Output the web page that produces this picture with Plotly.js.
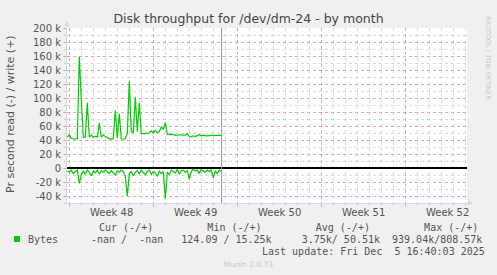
<!DOCTYPE html>
<html>
<head>
<meta charset="utf-8">
<script src="https://cdn.plot.ly/plotly-3.0.1.min.js"></script>
<style>html,body{margin:0;padding:0;background:#F0F0F0;}#chart{width:497px;height:275px;}</style>
</head>
<body>
<div id="chart"></div>
<script>
// ---- data (values in bytes/s, 4-hour samples) ----
const seriesStart = Date.UTC(2025, 10, 22, 20, 0, 0); // first sample time
const stepHours = 4;
const writeK = [44,47.5,42,41.4,41.4,41.4,159,98,44,44,93,44,47,44,45,44,64,44,47,45,44,41.5,41.5,41.5,82,43,77.6,41.4,41.4,41.4,49,124,52,50,101,52,93,49,49,49,49,50,53,50,54,50,52,59,55,65,48,48,48,48,46.5,47,47,47.5,47,47,49,45,44.5,46,45,46,47.5,46,47,46,46.5,47,46.5,46.5,46.5,46.5,46.5,46.5];
const readK = [-4,-6,-3,-8,-5,-3,-22,-10,-4,-9,-3,-6,-11,-4,-7,-3,-9,-4,-6,-3,-5,-8,-4,-7,-10,-4,-6,-3,-5,-12,-40,-8,-5,-11,-6,-4,-8,-3,-6,-10,-5,-3,-9,-5,-7,-12,-4,-8,-5,-44,-6,-10,-3,-5,-7,-2,-9,-4,-3,-6,-4,-16,-5,-2,-4,-3,-8,-2,-4,-6,-3,-5,-3,-14,-4,-8,-3,-6];
const yTickVals = [-40000,-20000,0,20000,40000,60000,80000,100000,120000,140000,160000,180000,200000];
const yTickText = ['-40 k','-20 k','0','20 k','40 k','60 k','80 k','100 k','120 k','140 k','160 k','180 k','200 k'];
const weekStarts = ['2025-11-23','2025-11-30','2025-12-07','2025-12-14','2025-12-21'];
const weekLabelPos = ['2025-11-26 12:00','2025-12-03 12:00','2025-12-10 12:00','2025-12-17 12:00','2025-12-24 12:00'];
const weekLabels = ['Week 48','Week 49','Week 50','Week 51','Week 52'];
const xRange = ['2025-11-22 19:24','2025-12-26 03:24'];
const lastUpdate = '2025-12-05 16:40:03';
const legendHeader = 'Cur (-/+)         Min (-/+)         Avg (-/+)         Max (-/+)';
const legendName = 'Bytes';
const legendValues = '-nan /  -nan   124.09 / 15.25k     3.75k/ 50.51k  939.04k/808.57k';
const lastUpdateText = 'Last update: Fri Dec  5 16:40:03 2025';

function fmt(ms){ return new Date(ms).toISOString().slice(0,19).replace('T',' '); }
const times = writeK.map((_, i) => fmt(seriesStart + i*stepHours*3600e3));
const nb = s => s.replace(/ /g, '\u00a0');

// pixel -> paper helpers for the page furniture
const L = 67, T = 28, W = 400, H = 175;
const PX = px => (px - L) / W;
const PY = py => (T + H - py) / H;

const green = '#00CC00';
const traces = [
  {x: times, y: writeK.map(v => v*1000), type: 'scatter', mode: 'lines',
   line: {color: green, width: 1.2}, hoverinfo: 'skip', showlegend: false},
  {x: times, y: readK.map(v => v*1000), type: 'scatter', mode: 'lines',
   line: {color: green, width: 1.2}, hoverinfo: 'skip', showlegend: false}
];

const txt = '#555';
const annotations = [];
weekLabels.forEach((t, i) => annotations.push({
  text: t, x: weekLabelPos[i], xref: 'x', y: PY(212.5), yref: 'paper',
  xanchor: 'center', yanchor: 'middle', showarrow: false,
  font: {family: 'DejaVu Sans', size: 10, color: txt}
}));
annotations.push({text: 'Pr second read (-) / write (+)', x: PX(10), y: PY(114), xref: 'paper', yref: 'paper',
  textangle: -90, showarrow: false, xanchor: 'center', yanchor: 'middle',
  font: {family: 'DejaVu Sans', size: 11, color: txt}});
annotations.push({text: nb(legendHeader), x: PX(97), y: PY(227.7), xref: 'paper', yref: 'paper',
  xanchor: 'left', yanchor: 'middle', showarrow: false, font: {family: 'DejaVu Sans Mono', size: 10, color: txt}});
annotations.push({text: legendName, x: PX(25.5), y: PY(239.3), xref: 'paper', yref: 'paper',
  xanchor: 'left', yanchor: 'middle', showarrow: false, font: {family: 'DejaVu Sans Mono', size: 10, color: txt}});
annotations.push({text: nb(legendValues), x: PX(89), y: PY(239.3), xref: 'paper', yref: 'paper',
  xanchor: 'left', yanchor: 'middle', showarrow: false, font: {family: 'DejaVu Sans Mono', size: 10, color: txt}});
annotations.push({text: nb(lastUpdateText), x: PX(260), y: PY(251.7), xref: 'paper', yref: 'paper',
  xanchor: 'left', yanchor: 'middle', showarrow: false, font: {family: 'DejaVu Sans Mono', size: 10, color: txt}});
annotations.push({text: 'Munin 2.0.73', x: PX(248), y: PY(264), xref: 'paper', yref: 'paper',
  xanchor: 'center', yanchor: 'middle', showarrow: false, font: {family: 'DejaVu Sans', size: 7.5, color: '#c8c8c8'}});
annotations.push({text: 'RRDTOOL / TOBI OETIKER', x: PX(488), y: PY(58), xref: 'paper', yref: 'paper',
  textangle: 90, xanchor: 'center', yanchor: 'middle', showarrow: false, font: {family: 'DejaVu Sans', size: 6.5, color: '#c8c8c8'}});
// axis arrows
annotations.push({text: '', x: PX(473), y: PY(203), xref: 'paper', yref: 'paper', ax: -7, ay: 0,
  showarrow: true, arrowhead: 2, arrowsize: 1, arrowwidth: 1, arrowcolor: '#CFD6F8'});
annotations.push({text: '', x: PX(67), y: PY(21), xref: 'paper', yref: 'paper', ax: 0, ay: 8,
  showarrow: true, arrowhead: 2, arrowsize: 1, arrowwidth: 1, arrowcolor: '#CFD6F8'});

const red = 'rgba(225,100,100,0.42)';
const grey = 'rgba(170,170,170,0.45)';
const layout = {
  width: 497, height: 275,
  margin: {l: L, r: 497 - L - W, t: T, b: 275 - T - H, pad: 0},
  paper_bgcolor: '#F0F0F0', plot_bgcolor: '#FFFFFF',
  showlegend: false,
  title: {text: 'Disk throughput for /dev/dm-24 - by month', font: {family: 'DejaVu Sans', size: 12.5, color: '#444'},
          x: 0.5, xref: 'container', xanchor: 'center', y: 1 - 19/275, yref: 'container', yanchor: 'middle'},
  xaxis: {type: 'date', range: xRange, tickvals: weekStarts, showticklabels: false,
          showgrid: true, gridcolor: red, griddash: 'dot', gridwidth: 1,
          ticks: 'outside', ticklen: 3, tickcolor: red,
          minor: {dtick: 86400000, tick0: '2025-11-23', showgrid: true, gridcolor: grey, griddash: 'dot',
                  ticks: 'outside', ticklen: 2, tickcolor: grey},
          showline: true, linecolor: '#CFD6F8', linewidth: 1, zeroline: false, fixedrange: true},
  yaxis: {range: [-50000, 200000], tickvals: yTickVals, ticktext: yTickText,
          tickfont: {family: 'DejaVu Sans', size: 10, color: txt},
          showgrid: true, gridcolor: red, griddash: 'dot', gridwidth: 1,
          ticks: 'outside', ticklen: 3, tickcolor: red,
          minor: {dtick: 10000, tick0: 0, showgrid: true, gridcolor: grey, griddash: 'dot',
                  ticks: 'outside', ticklen: 2, tickcolor: grey},
          showline: true, linecolor: '#CFD6F8', linewidth: 1,
          zeroline: true, zerolinecolor: '#000000', zerolinewidth: 1.5, fixedrange: true},
  shapes: [
    {type: 'line', xref: 'x', yref: 'paper', x0: lastUpdate, x1: lastUpdate, y0: 0, y1: 1,
     line: {color: '#999999', width: 1}, layer: 'above'},
    {type: 'rect', xref: 'paper', yref: 'paper', x0: PX(14), x1: PX(20), y0: PY(242), y1: PY(236),
     fillcolor: green, line: {width: 0}}
  ],
  annotations: annotations
};
Plotly.newPlot('chart', traces, layout, {displayModeBar: false, staticPlot: true});
</script>
</body>
</html>
